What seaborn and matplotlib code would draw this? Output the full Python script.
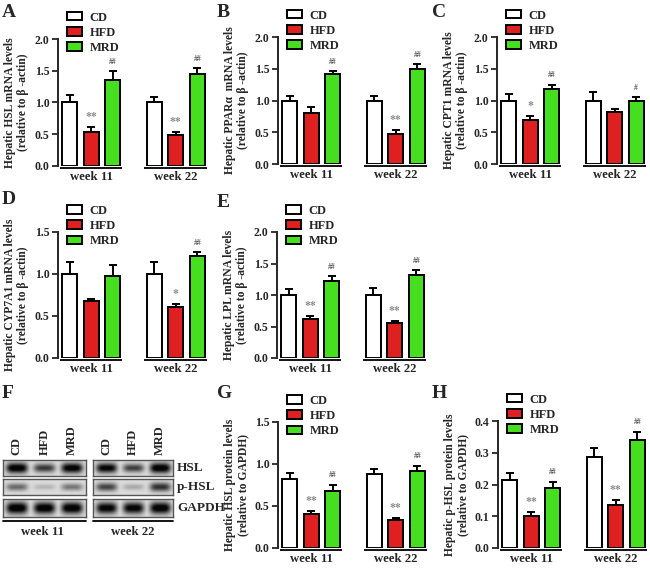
import numpy as np
import pandas as pd
import matplotlib
matplotlib.use("Agg")
import matplotlib.pyplot as plt
import seaborn as sns

# ---- data ----
weeks = ["week 11", "week 22"]
groups = ["CD", "HFD", "MRD"]
colors = ["#ffffff", "#ff0000", "#33ff00"]

hsl_mrna_mean = [[1.00, 0.54, 1.36], [1.00, 0.49, 1.45]]
hsl_mrna_sem = [[0.12, 0.07, 0.13], [0.09, 0.04, 0.09]]
hsl_mrna_marks = [["**", "##"], ["**", "##"]]

ppara_mean = [[1.00, 0.80, 1.41], [1.00, 0.47, 1.49]]
ppara_sem = [[0.07, 0.10, 0.05], [0.07, 0.06, 0.08]]
ppara_marks = [["", "##"], ["**", "##"]]

cpt1_mean = [[1.00, 0.70, 1.18], [1.00, 0.82, 1.00]]
cpt1_sem = [[0.11, 0.05, 0.07], [0.13, 0.04, 0.05]]
cpt1_marks = [["*", "##"], ["", "#"]]

cyp7a1_mean = [[1.00, 0.68, 0.98], [1.00, 0.61, 1.21]]
cyp7a1_sem = [[0.14, 0.02, 0.13], [0.14, 0.03, 0.05]]
cyp7a1_marks = [["", ""], ["*", "##"]]

lpl_mean = [[1.00, 0.62, 1.22], [1.00, 0.55, 1.31]]
lpl_sem = [[0.10, 0.05, 0.08], [0.11, 0.04, 0.08]]
lpl_marks = [["**", "##"], ["**", "##"]]

hsl_prot_mean = [[0.82, 0.40, 0.68], [0.88, 0.33, 0.92]]
hsl_prot_sem = [[0.07, 0.04, 0.07], [0.06, 0.03, 0.06]]
hsl_prot_marks = [["**", "##"], ["**", "##"]]

phsl_prot_mean = [[0.215, 0.102, 0.188], [0.288, 0.135, 0.339]]
phsl_prot_sem = [[0.020, 0.011, 0.021], [0.027, 0.015, 0.027]]
phsl_prot_marks = [["**", "##"], ["**", "##"]]

# western blot band darkness per lane (CD, HFD, MRD)
blot_rows = ["HSL", "p-HSL", "GAPDH"]
blot_w11 = [[0.95, 0.65, 0.92], [0.45, 0.15, 0.40], [0.97, 0.95, 0.95]]
blot_w22 = [[0.88, 0.62, 0.95], [0.60, 0.20, 0.68], [0.90, 0.90, 0.95]]

sns.set_theme(style="ticks")
plt.rcParams["font.family"] = ["Liberation Serif", "DejaVu Serif"]
plt.rcParams["font.weight"] = "bold"
plt.rcParams["axes.labelweight"] = "bold"

W, H = 650, 568
fig = plt.figure(figsize=(6.5, 5.68), dpi=100)


def px_rect(left, top, right, bottom):
    return [left / W, 1 - bottom / H, (right - left) / W, (bottom - top) / H]


def bar_panel(left, top, bottom, mean, sem, marks, ylab, ymax, ystep):
    ax = fig.add_axes(px_rect(left, top, left + 156, bottom))
    rows = []
    for wi, wk in enumerate(weeks):
        for gi, g in enumerate(groups):
            rows.append({"week": wk, "group": g, "mean": mean[wi][gi], "sem": sem[wi][gi]})
    df = pd.DataFrame(rows)
    sns.barplot(data=df, x="week", y="mean", hue="group", hue_order=groups,
                palette=colors, width=0.76, gap=0.3, edgecolor="black",
                linewidth=1.4, errorbar=None, legend=False, ax=ax)
    # patches are ordered hue-major: CD(w11,w22), HFD(...), MRD(...)
    bars = ax.patches[:6]
    for gi in range(3):
        for wi in range(2):
            p = bars[gi * 2 + wi]
            xc = p.get_x() + p.get_width() / 2
            h = p.get_height()
            e = sem[wi][gi]
            ax.errorbar([xc], [h], yerr=[[0], [e]], fmt="none", ecolor="black",
                        elinewidth=1.4, capsize=3.2, capthick=1.4, zorder=1)
            if gi > 0:
                m = marks[wi][gi - 1]
                if m:
                    star = "*" in m
                    ax.annotate(m, xy=(xc, h + e), xytext=(0, 3 if star else 4),
                                textcoords="offset points", ha="center", va="bottom",
                                fontsize=8.5 if star else 5.5,
                                color="#8c8c8c" if star else "#555555",
                                fontweight="bold")
    ax.set_xlim(-0.39, 1.45)
    ax.set_ylim(0, ymax)
    ticks = np.arange(0, ymax + ystep / 2, ystep)
    ax.set_yticks(ticks)
    ax.set_yticklabels([f"{v:.1f}" for v in ticks])
    for s in ["top", "right", "bottom"]:
        ax.spines[s].set_visible(False)
    ax.spines["left"].set_linewidth(1.4)
    ax.tick_params(axis="y", direction="out", length=4, width=1.3, labelsize=8.5, pad=2)
    ax.tick_params(axis="x", length=0, labelsize=9.2, pad=3.5)
    ax.set_xlabel("")
    ax.set_ylabel(ylab, fontsize=8.4, fontweight="bold", labelpad=4, linespacing=1.15)
    yline = -0.015 * ymax
    for xc in [0, 1]:
        ax.plot([xc - 0.37, xc + 0.37], [yline, yline], color="black", lw=1.3,
                clip_on=False, solid_capstyle="butt")
    handles = [bars[0], bars[2], bars[4]]
    ax.legend(handles, groups, loc="upper left", bbox_to_anchor=(0.06, 1.215),
              frameon=False, fontsize=9, handlelength=1.2, handleheight=0.65,
              labelspacing=0.25, handletextpad=0.6, borderpad=0, borderaxespad=0)
    return ax


beta = "\u03b2"
bar_panel(58, 39, 166, hsl_mrna_mean, hsl_mrna_sem, hsl_mrna_marks,
          f"Hepatic HSL mRNA levels\n(relative to {beta} -actin)", 2.0, 0.5)
bar_panel(278, 37, 164, ppara_mean, ppara_sem, ppara_marks,
          f"Hepatic PPAR\u03b1  mRNA levels\n(relative to {beta} -actin)", 2.0, 0.5)
bar_panel(497, 37, 164, cpt1_mean, cpt1_sem, cpt1_marks,
          f"Hepatic CPT1 mRNA levels\n(relative to {beta} -actin)", 2.0, 0.5)
bar_panel(58, 232, 358, cyp7a1_mean, cyp7a1_sem, cyp7a1_marks,
          f"Hepatic CYP7A1 mRNA levels\n(relative to {beta} -actin)", 1.5, 0.5)
bar_panel(277, 232, 358, lpl_mean, lpl_sem, lpl_marks,
          f"Hepatic LPL mRNA levels\n(relative to {beta} -actin)", 2.0, 0.5)
bar_panel(278, 422, 548, hsl_prot_mean, hsl_prot_sem, hsl_prot_marks,
          "Hepatic HSL protein levels\n(relative to GAPDH)", 1.5, 0.5)
bar_panel(498, 421, 548, phsl_prot_mean, phsl_prot_sem, phsl_prot_marks,
          "Hepatic p-HSL protein levels\n(relative to GAPDH)", 0.4, 0.1)

# ---- panel F: western blot strips ----
strip_y = [(460, 476), (479, 495), (499, 517)]
box_x = [(3, 86), (93, 173)]


def band_image(levels, width_px, height_px):
    xs = np.linspace(0, 1, width_px * 2)
    ys = np.linspace(-1, 1, height_px * 2)
    X, Y = np.meshgrid(xs, ys)
    dark = np.zeros_like(X)
    for j, d in enumerate(levels):
        cx = (j + 0.5) / 3
        sx = 0.13
        sy = 0.3 + 0.4 * d
        blob = d * np.exp(-np.abs((X - cx) / sx) ** 4) * np.exp(-(Y / sy) ** 2)
        dark = np.maximum(dark, blob)
    return 0.86 - 0.84 * np.clip(dark * 1.2, 0, 1)


for (x0, x1), levels in zip(box_x, [blot_w11, blot_w22]):
    for (y0, y1), lv in zip(strip_y, levels):
        bax = fig.add_axes(px_rect(x0, y0, x1, y1))
        bax.imshow(band_image(lv, x1 - x0, y1 - y0), cmap="gray", vmin=0, vmax=1,
                   aspect="auto", interpolation="bilinear")
        bax.set_xticks([])
        bax.set_yticks([])
        for s in bax.spines.values():
            s.set_color("#555555")
            s.set_linewidth(1.0)
    for j, g in enumerate(groups):
        xc = x0 + (x1 - x0) * (j + 0.5) / 3
        fig.text(xc / W, 1 - 455 / H, g, rotation=90, ha="center", va="bottom",
                 fontsize=9, fontweight="bold")
    fig.add_artist(plt.Line2D([x0 / W, x1 / W], [1 - 521 / H, 1 - 521 / H],
                              color="black", lw=1.3))

fig.text(42 / W, 1 - 532 / H, "week 11", ha="center", va="center", fontsize=9.2, fontweight="bold")
fig.text(133 / W, 1 - 532 / H, "week 22", ha="center", va="center", fontsize=9.2, fontweight="bold")
for (y0, y1), name in zip(strip_y, blot_rows):
    fig.text(177 / W, 1 - ((y0 + y1) / 2) / H, name, ha="left", va="center",
             fontsize=9.5, fontweight="bold")

# ---- panel letters ----
letters = [("A", 2, 4), ("B", 217, 4), ("C", 432, 4), ("D", 2, 191),
           ("E", 217, 194), ("F", 2, 385), ("G", 217, 385), ("H", 432, 385)]
for t, x, y in letters:
    fig.text(x / W, 1 - y / H, t, ha="left", va="top", fontsize=14, fontweight="bold")

fig.savefig("out.png", dpi=100)
